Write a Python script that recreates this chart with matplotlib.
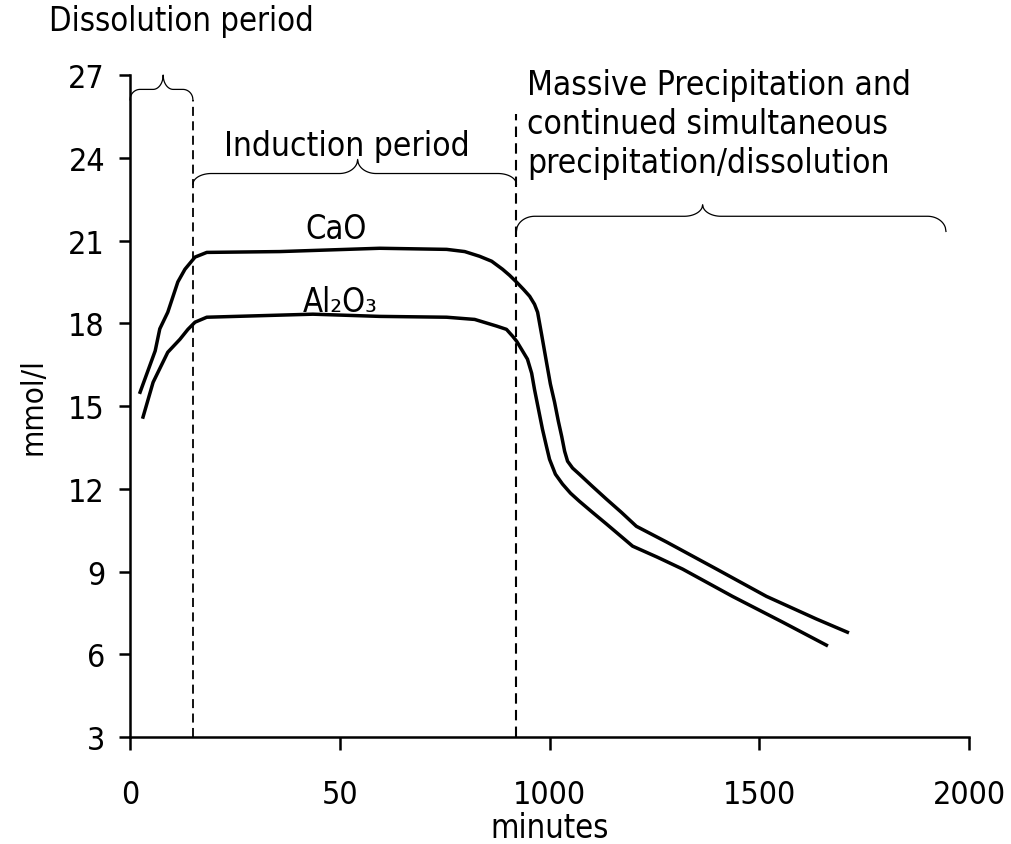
import numpy as np
import matplotlib
matplotlib.use("Agg")
import matplotlib.pyplot as plt
from matplotlib.transforms import blended_transform_factory

plt.rcParams['font.family'] = ['DejaVu Sans']
plt.rcParams['font.stretch'] = 'condensed'

# Broken time axis: each labelled tick gets the same width on the page
tick_min = [0, 50, 1000, 1500, 2000]
tick_pos = [0, 1, 2, 3, 4]

def fwd(m):
    return np.interp(m, tick_min, tick_pos)

def inv(p):
    return np.interp(p, tick_pos, tick_min)

# CaO concentration (mmol/l) vs time (minutes)
cao_t = [2.4, 6.0, 7.1, 9.0, 11.4, 13.1, 15.5, 18.3, 35.7, 231, 534, 616, 683, 738, 787, 819, 851,
         882, 910, 932, 946, 964, 986, 1002, 1012, 1021, 1029, 1036, 1043, 1055, 1071, 1102, 1136,
         1171, 1207, 1279, 1398, 1517, 1636, 1710]
cao_c = [15.5, 17.0, 17.8, 18.4, 19.5, 19.96, 20.4, 20.57, 20.6, 20.72, 20.68, 20.6, 20.43, 20.25, 19.96, 19.74, 19.49,
         19.23, 18.98, 18.69, 18.4, 17.6, 16.6, 15.8, 15.14, 14.45, 13.9, 13.36, 13.0, 12.75, 12.53, 12.09, 11.62,
         11.15, 10.64, 10.07, 9.09, 8.1, 7.28, 6.8]

# Al2O3 concentration (mmol/l) vs time (minutes)
al_t = [3.1, 5.5, 9.0, 11.9, 13.8, 15.5, 18.3, 43.6, 231, 534, 661, 760, 805, 833, 851, 873,
        900, 919, 932, 950, 968, 986, 1000, 1014, 1031, 1050, 1071, 1102, 1136, 1198, 1257, 1317,
        1436, 1555, 1660]
al_c = [14.6, 15.86, 16.95, 17.42, 17.78, 18.04, 18.22, 18.33, 18.25, 18.22, 18.14, 17.9, 17.78, 17.53, 17.35, 17.06,
        16.7, 16.19, 15.6, 14.88, 14.16, 13.54, 13.07, 12.53, 12.17, 11.84, 11.55, 11.15, 10.72, 9.92, 9.52, 9.09,
        8.1, 7.17, 6.33]

# period boundaries (minutes)
t_induction = 15
t_precip = 850

fig = plt.figure(figsize=(10.11, 8.45), dpi=100)
ax = fig.add_axes([0.1286, 0.1266, 0.8299, 0.7834])

ax.plot(cao_t, cao_c, color='black', lw=2.5, solid_joinstyle='round')
ax.plot(al_t, al_c, color='black', lw=2.5, solid_joinstyle='round')

ax.plot([t_induction, t_induction], [3, 26.1], color='black', lw=1.3, ls=(0, (5, 3)))
ax.plot([t_precip, t_precip], [3, 25.6], color='black', lw=1.5, ls=(0, (5, 3)))

ax.set_xscale('function', functions=(fwd, inv))
ax.set_xlim(0, 2000)
ax.set_ylim(3, 27)
ax.set_xticks(tick_min)
ax.set_xticklabels([str(t) for t in tick_min])
ax.set_yticks(np.arange(3, 28, 3))
ax.minorticks_off()

for s in ['top', 'right']:
    ax.spines[s].set_visible(False)
for s in ['left', 'bottom']:
    ax.spines[s].set_linewidth(1.8)

ax.tick_params(axis='y', direction='out', length=8, width=1.8, pad=10, labelsize=23)
ax.tick_params(axis='x', direction='out', length=9, width=1.8, pad=21, labelsize=23)

ax.set_xlabel('minutes', fontsize=23.5, labelpad=1)
ax.set_ylabel('mmol/l', fontsize=22.5, labelpad=15)

# x in axes fraction, y in data
tr = blended_transform_factory(ax.transAxes, ax.transData)


def brace(m0, m1, m_tip, y_line, y_tip, y_end, r=0.022):
    x0 = fwd(m0) / 4
    x1 = fwd(m1) / 4
    xt = fwd(m_tip) / 4
    r = min(r, (xt - x0) / 2, (x1 - xt) / 2)
    xs, ys = [], []
    u = np.linspace(0, 1, 30)
    # left hook
    xs += list(x0 + r * u)
    ys += list(y_line - (y_line - y_end) * (1 - np.sqrt(1 - (1 - u) ** 2)))
    # rise to tip
    xs += list(xt - r + r * u)
    ys += list(y_line + (y_tip - y_line) * (1 - np.sqrt(1 - u ** 2)))
    # down from tip
    xs += list(xt + r * u)
    ys += list(y_line + (y_tip - y_line) * (1 - np.sqrt(1 - (1 - u) ** 2)))
    # right hook
    xs += list(x1 - r + r * u)
    ys += list(y_line - (y_line - y_end) * (1 - np.sqrt(1 - u ** 2)))
    ax.plot(xs, ys, color='black', lw=0.9, transform=tr, clip_on=False)


brace(0, t_induction, 7.9, 26.48, 27.0, 26.1, r=0.012)
brace(t_induction, t_precip, 131, 23.43, 23.94, 23.04)
brace(t_precip, 1945, 1365, 21.88, 22.3, 21.33)

ax.text(fwd(49) / 4, 21.45, 'CaO', transform=tr, ha='center', va='center', fontsize=23.5)
ax.text(fwd(52) / 4, 18.8, 'Al₂O₃', transform=tr, ha='center', va='center', fontsize=23.5)
ax.text(fwd(82) / 4, 24.45, 'Induction period', transform=tr, ha='center', va='center', fontsize=24)
fig.text(181 / 1011, 1 - 22 / 845, 'Dissolution period', ha='center', va='center', fontsize=23.5)
fig.text(527 / 1011, 1 - 69 / 845,
         'Massive Precipitation and\ncontinued simultaneous\nprecipitation/dissolution',
         ha='left', va='top', fontsize=24, linespacing=1.23)

fig.savefig('out.png', dpi=100)
